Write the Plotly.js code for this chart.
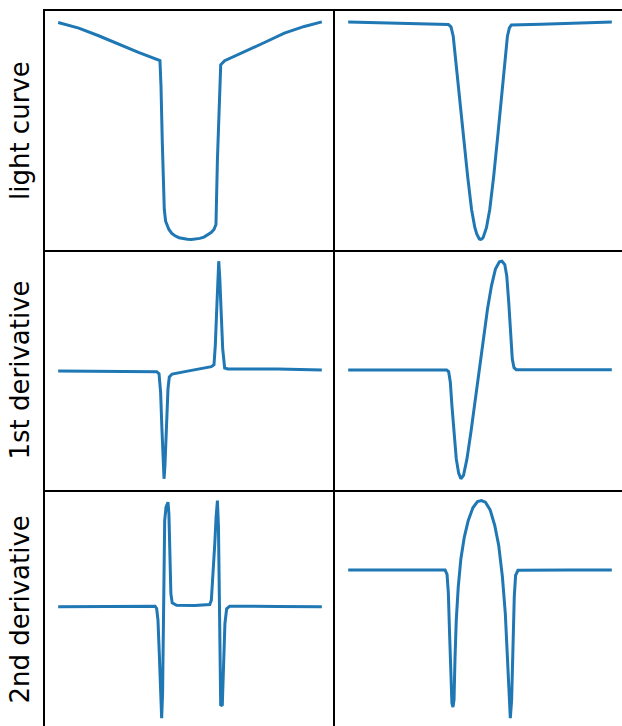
<!DOCTYPE html>
<html>
<head>
<meta charset="utf-8">
<script src="https://cdn.plot.ly/plotly-3.0.1.min.js"></script>
<style>
  html, body { margin: 0; padding: 0; overflow: hidden; background: #fff; }
  #chart { width: 626px; height: 730px; }
</style>
</head>
<body>
<div id="chart"></div>
<script>
// Full (flat-bottomed) transit: light curve and its derivatives
const fullLightT = [-1.000,-0.844,-0.693,-0.542,-0.391,-0.228,-0.220,-0.210,-0.195,-0.185,-0.172,-0.160,-0.138,-0.114,-0.083,-0.052,-0.020,0.011,0.043,0.074,0.106,0.137,0.160,0.182,0.197,0.208,0.223,0.233,0.263,0.414,0.565,0.716,0.867,1.000];
const fullLightF = [1.000,0.974,0.939,0.899,0.862,0.825,0.706,0.445,0.138,0.084,0.062,0.046,0.028,0.017,0.008,0.003,0.001,0.000,0.002,0.005,0.011,0.021,0.032,0.046,0.069,0.368,0.675,0.805,0.824,0.865,0.908,0.951,0.982,1.003];

const fullD1T = [-1.000,-0.718,-0.467,-0.253,-0.235,-0.223,-0.213,-0.203,-0.197,-0.190,-0.180,-0.167,-0.157,-0.135,-0.039,0.062,0.162,0.182,0.192,0.203,0.210,0.218,0.226,0.236,0.248,0.263,0.288,0.665,1.000];
const fullD1V = [-0.006,-0.009,-0.012,-0.012,-0.031,-0.199,-0.535,-0.872,-0.994,-0.872,-0.535,-0.168,-0.061,-0.034,-0.012,0.009,0.034,0.052,0.229,0.566,0.841,1.000,0.841,0.505,0.199,0.021,0.012,0.012,0.003];

const fullD2T = [-1.000,-0.592,-0.265,-0.253,-0.243,-0.233,-0.223,-0.215,-0.208,-0.203,-0.197,-0.192,-0.182,-0.167,-0.160,-0.152,-0.145,-0.135,-0.102,0.036,0.150,0.162,0.175,0.188,0.198,0.208,0.216,0.223,0.228,0.233,0.245,0.255,0.265,0.278,0.301,0.665,1.000];
const fullD2V = [-0.006,-0.003,0.000,-0.022,-0.132,-0.447,-0.824,-1.060,-0.824,-0.289,0.340,0.811,0.937,0.984,0.874,0.497,0.119,0.031,0.009,0.006,0.016,0.057,0.277,0.591,0.843,1.000,0.748,0.182,-0.384,-0.943,-0.934,-0.509,-0.164,-0.025,0.000,-0.003,-0.006];

// V-shaped (grazing) transit: light curve and its derivatives
const vLightT = [-1.000,-0.794,-0.592,-0.391,-0.240,-0.220,-0.203,-0.185,-0.160,-0.127,-0.094,-0.064,-0.039,-0.024,-0.014,-0.005,0.004,0.014,0.024,0.035,0.049,0.074,0.104,0.137,0.167,0.192,0.208,0.223,0.238,0.464,0.716,1.000];
const vLightF = [1.000,0.997,0.992,0.989,0.988,0.977,0.934,0.827,0.674,0.475,0.291,0.138,0.054,0.024,0.008,0.002,0.000,0.002,0.009,0.026,0.054,0.138,0.291,0.490,0.689,0.858,0.934,0.972,0.986,0.989,0.994,1.000];

const vD1T = [-1.000,-0.592,-0.253,-0.238,-0.225,-0.213,-0.197,-0.180,-0.162,-0.145,-0.125,-0.099,-0.069,-0.039,-0.009,0.024,0.057,0.087,0.117,0.147,0.167,0.188,0.203,0.218,0.233,0.245,0.258,0.275,0.665,1.000];
const vD1V = [0.000,0.000,0.000,-0.015,-0.113,-0.327,-0.602,-0.817,-0.948,-1.000,-0.969,-0.817,-0.572,-0.297,-0.021,0.284,0.560,0.774,0.927,0.994,1.000,0.969,0.865,0.621,0.315,0.101,0.021,0.003,0.003,0.003];

const vD2T = [-1.000,-0.592,-0.265,-0.250,-0.240,-0.230,-0.220,-0.213,-0.205,-0.197,-0.190,-0.180,-0.165,-0.145,-0.119,-0.089,-0.054,-0.019,0.011,0.041,0.077,0.112,0.142,0.170,0.192,0.208,0.220,0.230,0.240,0.250,0.260,0.270,0.288,0.665,1.000];
const vD2V = [0.000,0.000,0.000,-0.062,-0.340,-0.962,-1.584,-1.919,-1.976,-1.871,-1.297,-0.722,-0.244,0.163,0.474,0.713,0.895,0.986,1.000,0.976,0.866,0.641,0.354,-0.100,-0.627,-1.201,-1.775,-2.134,-1.871,-1.105,-0.388,-0.077,-0.005,0.000,0.000];

const rowLabels = ['light curve', '1st derivative', '2nd derivative'];

// panels in reading order: row by row, left column then right column
const panels = [
  [fullLightT, fullLightF], [vLightT, vLightF],
  [fullD1T, fullD1V],       [vD1T, vD1V],
  [fullD2T, fullD2V],       [vD2T, vD2V]
];

const lineColor = '#1f77b4';
const traces = [];
const layout = {
  width: 626, height: 730,
  margin: {l: 45, r: 1, t: 11, b: 1},
  paper_bgcolor: '#ffffff', plot_bgcolor: '#ffffff',
  showlegend: false,
  font: {family: 'DejaVu Sans, sans-serif', color: '#000'}
};

function padded(arr) {
  const lo = Math.min(...arr), hi = Math.max(...arr);
  const pad = (hi - lo) * 0.05;
  return [lo - pad, hi + pad];
}

panels.forEach(([xs, ys], i) => {
  const row = Math.floor(i / 2), col = i % 2;
  const n = i + 1;
  const sfx = n === 1 ? '' : String(n);
  traces.push({
    x: xs, y: ys, type: 'scatter', mode: 'lines',
    line: {color: lineColor, width: 3},
    xaxis: 'x' + sfx, yaxis: 'y' + sfx,
    hoverinfo: 'skip'
  });
  const frame = {
    showline: true, linecolor: '#000', linewidth: 2,
    showgrid: false, zeroline: false, ticks: '', showticklabels: false,
    fixedrange: true
  };
  // shared panel edges are drawn once: bottom and left of every panel,
  // plus the top edge of the first row and the right edge of the last column
  layout['xaxis' + sfx] = Object.assign({}, frame, {
    domain: [col / 2, (col + 1) / 2],
    range: padded(xs),
    anchor: 'y' + sfx,
    mirror: row === 0
  });
  layout['yaxis' + sfx] = Object.assign({}, frame, {
    domain: [1 - (row + 1) / 3, 1 - row / 3],
    range: padded(ys),
    anchor: 'x' + sfx,
    mirror: col === 1
  });
  if (col === 0) {
    layout['yaxis' + sfx].title = {
      text: rowLabels[row],
      font: {family: 'DejaVu Sans, sans-serif', size: 26, color: '#000'},
      standoff: 6
    };
  }
});

Plotly.newPlot('chart', traces, layout, {displayModeBar: false, staticPlot: true});
</script>
</body>
</html>
